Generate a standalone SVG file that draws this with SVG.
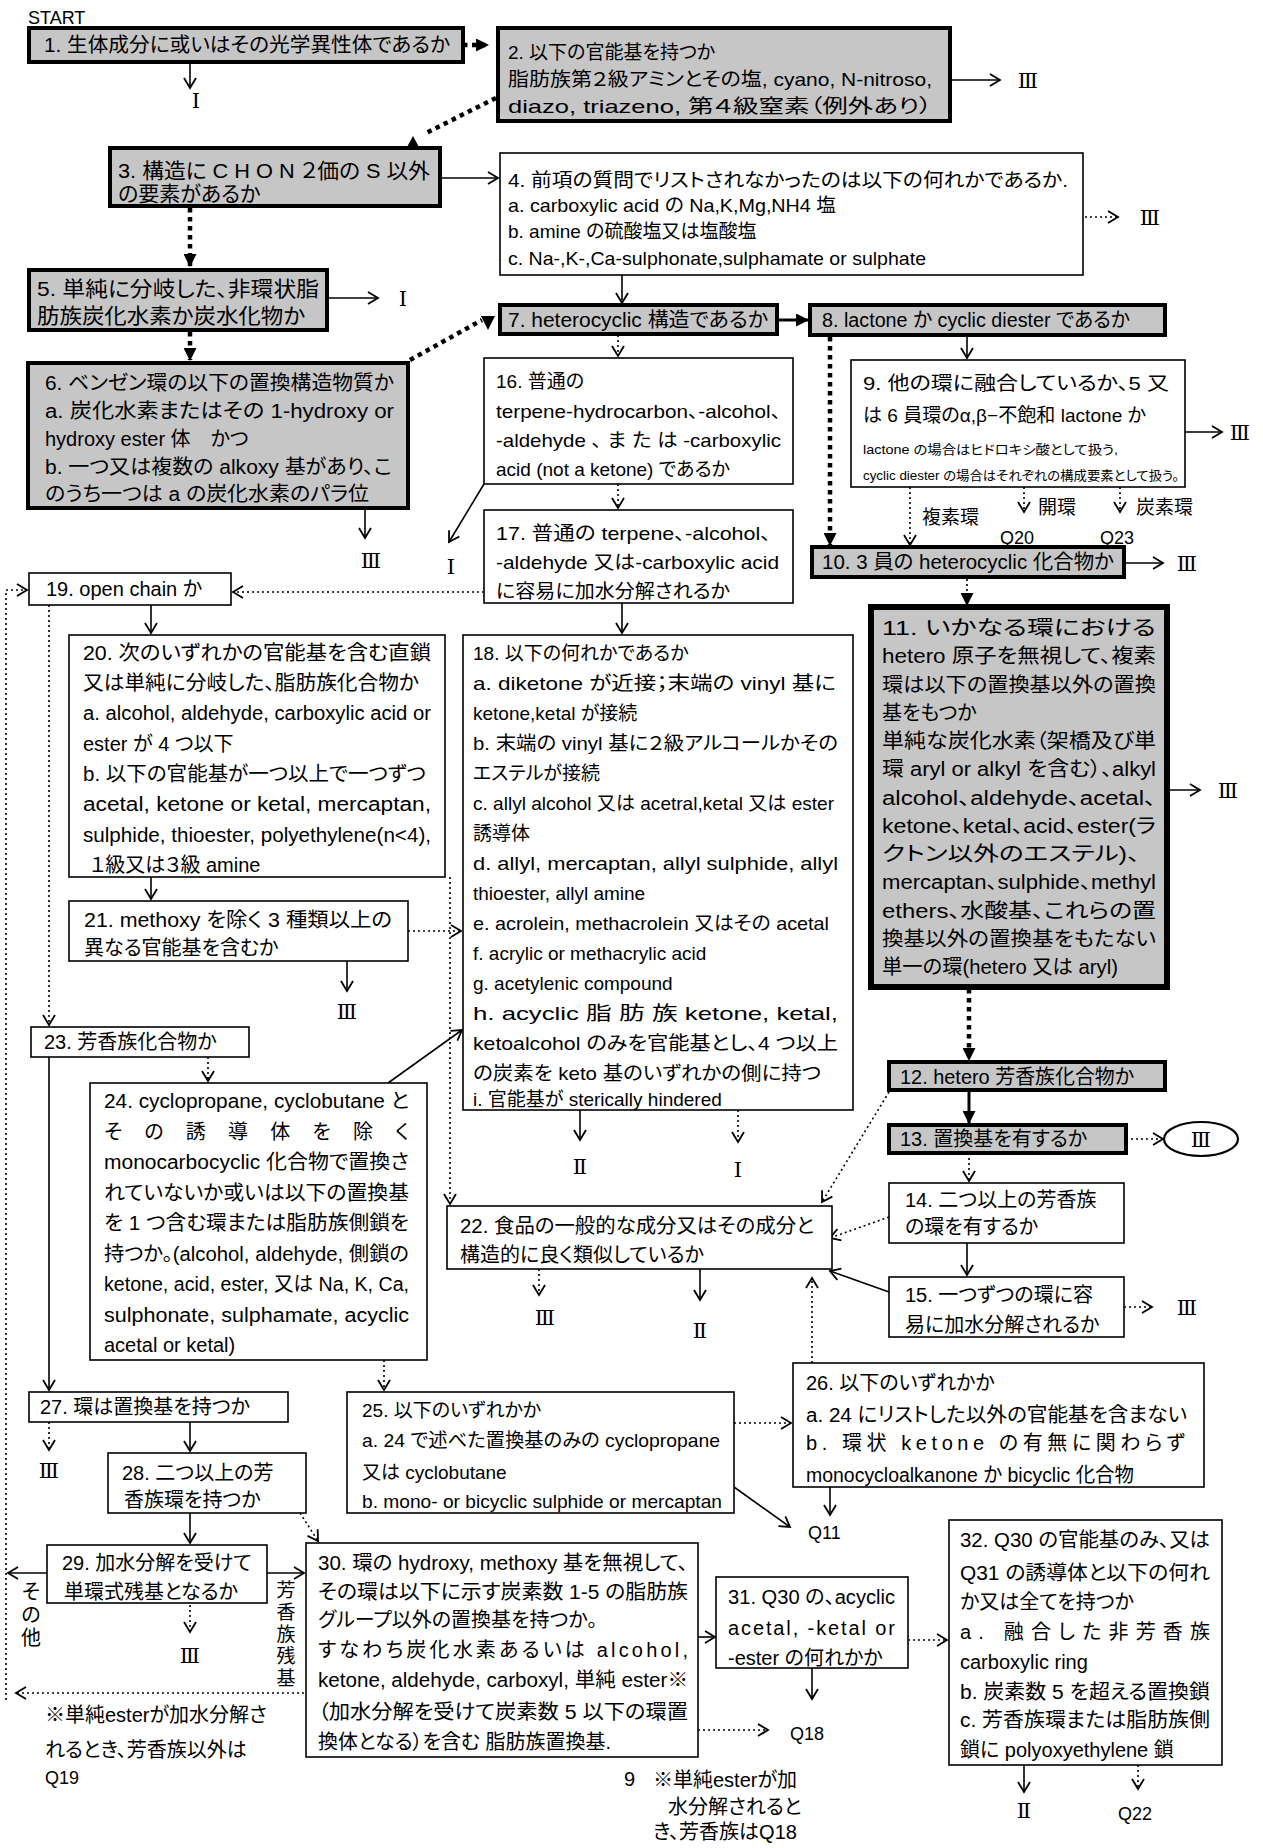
<svg xmlns="http://www.w3.org/2000/svg" width="1263" height="1848" viewBox="0 0 1263 1848">
<style>
.g{fill:#c6c6c6;stroke:#000;stroke-width:4}
.gx{fill:#c6c6c6;stroke:#000;stroke-width:6}
.w{fill:#fff;stroke:#000;stroke-width:1.6}
.t{font-family:"Liberation Sans","Noto Sans CJK JP",sans-serif;font-size:20px;fill:#000;font-feature-settings:"palt"}
.f19{font-size:19px}
.f21{font-size:21px}
.f13{font-size:13px}
.r{font-family:"DejaVu Serif","Noto Sans CJK JP",serif;font-size:21px;text-anchor:middle;fill:#000}
.q{font-family:"Liberation Sans",sans-serif;font-size:18px;fill:#000}
.c{fill:none;stroke:#000;stroke-width:1.6}
.S{fill:none;stroke:#000;stroke-width:3}
.d{fill:none;stroke:#000;stroke-width:1.6;stroke-dasharray:2 3}
.D{fill:none;stroke:#000;stroke-width:4.5;stroke-dasharray:4.5 4.5}
</style>
<defs>
<marker id="a" viewBox="0 0 14 14" refX="12" refY="7" markerWidth="14" markerHeight="14" orient="auto" markerUnits="userSpaceOnUse"><path d="M2,1 L12,7 L2,13" fill="none" stroke="#000" stroke-width="1.8"/></marker>
<marker id="f" viewBox="0 0 12 12" refX="11" refY="6" markerWidth="13" markerHeight="13" orient="auto" markerUnits="userSpaceOnUse"><path d="M0,0 L12,6 L0,12 Z" fill="#000"/></marker>
</defs>
<rect width="1263" height="1848" fill="#fff"/>
<text class="q" x="28" y="24" font-size="19">START</text>

<g id="connectors">
<path class="D" d="M463,45 H488" marker-end="url(#f)"/>
<path class="c" d="M190,62 V88" marker-end="url(#a)"/>
<path class="c" d="M950,80 H1000" marker-end="url(#a)"/>
<path class="D" d="M496,98 L424,134"/>
<polygon points="413,136 406,149 420,149" fill="#000"/>
<path class="c" d="M440,178 H498" marker-end="url(#a)"/>
<path class="D" d="M190,208 V266" marker-end="url(#f)"/>
<path class="d" d="M1085,217 H1118" marker-end="url(#a)"/>
<path class="c" d="M622,275 V303" marker-end="url(#a)"/>
<path class="c" d="M327,298 H378" marker-end="url(#a)"/>
<path class="D" d="M190,332 V360" marker-end="url(#f)"/>
<path class="c" d="M365,508 V538" marker-end="url(#a)"/>
<path class="D" d="M410,360 L482,320"/>
<polygon points="481,316 495,316 488,330" fill="#000"/>
<path class="S" d="M777,320 H808" marker-end="url(#f)"/>
<path class="d" d="M618,335 V356" marker-end="url(#a)"/>
<path class="c" d="M967,335 V358" marker-end="url(#a)"/>
<path class="D" d="M830,337 V545" marker-end="url(#f)"/>
<path class="c" d="M1185,432 H1222" marker-end="url(#a)"/>
<path class="d" d="M910,487 V545" marker-end="url(#a)"/>
<path class="d" d="M1024,487 V512" marker-end="url(#a)"/>
<path class="d" d="M1120,487 V512" marker-end="url(#a)"/>
<path class="c" d="M1124,563 H1163" marker-end="url(#a)"/>
<path class="d" d="M967,579 V605" marker-end="url(#f)"/>
<path class="c" d="M484,484 L449,542" marker-end="url(#a)"/>
<path class="d" d="M618,484 V508" marker-end="url(#a)"/>
<path class="d" d="M484,592 H233" marker-end="url(#a)"/>
<path class="c" d="M622,603 V633" marker-end="url(#a)"/>
<path class="c" d="M151,605 V633" marker-end="url(#a)"/>
<path class="d" d="M304,1693 H16" marker-end="url(#a)"/>
<path class="d" d="M6,1700 V590 H27" marker-end="url(#a)"/>
<path class="d" d="M49,605 V1025" marker-end="url(#a)"/>
<path class="c" d="M151,877 V899" marker-end="url(#a)"/>
<path class="d" d="M450,877 V1204" marker-end="url(#a)"/>
<path class="d" d="M408,931 H461" marker-end="url(#a)"/>
<path class="c" d="M347,961 V991" marker-end="url(#a)"/>
<path class="c" d="M580,1110 V1140" marker-end="url(#a)"/>
<path class="d" d="M738,1110 V1142" marker-end="url(#a)"/>
<path class="c" d="M1167,790 H1200" marker-end="url(#a)"/>
<path class="D" d="M969,989 V1060" marker-end="url(#f)"/>
<path class="S" d="M969,1090 V1123" marker-end="url(#f)"/>
<path class="d" d="M1126,1139 H1163" marker-end="url(#a)"/>
<path class="d" d="M969,1153 V1181" marker-end="url(#a)"/>
<path class="d" d="M889,1092 L822,1202" marker-end="url(#a)"/>
<path class="d" d="M889,1217 L830,1238" marker-end="url(#a)"/>
<path class="c" d="M967,1243 V1275" marker-end="url(#a)"/>
<path class="c" d="M889,1292 L830,1271" marker-end="url(#a)"/>
<path class="d" d="M1124,1307 H1152" marker-end="url(#a)"/>
<path class="d" d="M812,1363 V1278" marker-end="url(#a)"/>
<path class="d" d="M539,1269 V1295" marker-end="url(#a)"/>
<path class="c" d="M700,1269 V1300" marker-end="url(#a)"/>
<path class="d" d="M208,1057 V1081" marker-end="url(#a)"/>
<path class="c" d="M49,1057 V1390" marker-end="url(#a)"/>
<path class="c" d="M388,1083 L462,1030" marker-end="url(#a)"/>
<path class="d" d="M384,1360 V1390" marker-end="url(#a)"/>
<path class="d" d="M734,1423 H791" marker-end="url(#a)"/>
<path class="c" d="M734,1487 L790,1527" marker-end="url(#a)"/>
<path class="c" d="M830,1487 V1515" marker-end="url(#a)"/>
<path class="d" d="M49,1422 V1450" marker-end="url(#a)"/>
<path class="c" d="M190,1422 V1451" marker-end="url(#a)"/>
<path class="c" d="M190,1513 V1543" marker-end="url(#a)"/>
<path class="d" d="M300,1513 L318,1541" marker-end="url(#a)"/>
<path class="c" d="M47,1573 H8" marker-end="url(#a)"/>
<path class="c" d="M267,1573 H304" marker-end="url(#a)"/>
<path class="d" d="M190,1605 V1632" marker-end="url(#a)"/>
<path class="c" d="M698,1637 H715" marker-end="url(#a)"/>
<path class="d" d="M698,1730 H768" marker-end="url(#a)"/>
<path class="c" d="M812,1668 V1699" marker-end="url(#a)"/>
<path class="d" d="M908,1640 H947" marker-end="url(#a)"/>
<path class="c" d="M1024,1765 V1792" marker-end="url(#a)"/>
<path class="d" d="M1138,1765 V1789" marker-end="url(#a)"/>
</g>

<g id="labels">
<text class="r" x="196" y="108">Ⅰ</text>
<text class="r" x="1028" y="88">Ⅲ</text>
<text class="r" x="1150" y="225">Ⅲ</text>
<text class="r" x="403" y="306">Ⅰ</text>
<text class="r" x="371" y="568">Ⅲ</text>
<text class="r" x="451" y="574">Ⅰ</text>
<text class="r" x="1240" y="440">Ⅲ</text>
<text class="r" x="1187" y="571">Ⅲ</text>
<text class="r" x="1228" y="798">Ⅲ</text>
<text class="r" x="347" y="1019">Ⅲ</text>
<text class="r" x="580" y="1174">Ⅱ</text>
<text class="r" x="738" y="1177">Ⅰ</text>
<text class="r" x="1187" y="1315">Ⅲ</text>
<text class="r" x="545" y="1325">Ⅲ</text>
<text class="r" x="700" y="1338">Ⅱ</text>
<text class="r" x="49" y="1478">Ⅲ</text>
<text class="r" x="190" y="1663">Ⅲ</text>
<text class="r" x="1024" y="1818">Ⅱ</text>
<text class="t f19" x="922" y="524">複素環</text>
<text class="t f19" x="1038" y="514">開環</text>
<text class="t f19" x="1136" y="514">炭素環</text>
<text class="q" x="1000" y="544">Q20</text>
<text class="q" x="1100" y="544">Q23</text>
<text class="q" x="808" y="1539">Q11</text>
<text class="q" x="790" y="1740">Q18</text>
<text class="q" x="1118" y="1820">Q22</text>
<text class="t" x="31" y="1599" text-anchor="middle">そ</text>
<text class="t" x="31" y="1622" text-anchor="middle">の</text>
<text class="t" x="31" y="1645" text-anchor="middle">他</text>
<text class="t f19" x="286" y="1597" text-anchor="middle">芳</text>
<text class="t f19" x="286" y="1619" text-anchor="middle">香</text>
<text class="t f19" x="286" y="1641" text-anchor="middle">族</text>
<text class="t f19" x="286" y="1663" text-anchor="middle">残</text>
<text class="t f19" x="286" y="1685" text-anchor="middle">基</text>
<text class="t" x="45" y="1722">※単純esterが加水分解さ</text>
<text class="t" x="45" y="1757">れるとき、芳香族以外は</text>
<text class="q" x="45" y="1784" font-size="19">Q19</text>
<text class="t" x="624" y="1786">9</text>
<text class="t" x="653" y="1787">※単純esterが加</text>
<text class="t" x="668" y="1814">水分解されると</text>
<text class="t" x="653" y="1839">き、芳香族はQ18</text>
</g>

<g id="n1"><rect class="g" x="29" y="28" width="434" height="34"/>
<text class="t" x="44" y="52" textLength="406" lengthAdjust="spacingAndGlyphs">1. 生体成分に或いはその光学異性体であるか</text></g>

<g id="n2"><rect class="g" x="498" y="28" width="452" height="93"/>
<text class="t f19" x="508" y="59">2. 以下の官能基を持つか</text>
<text class="t f19" x="508" y="86" textLength="424" lengthAdjust="spacingAndGlyphs">脂肪族第２級アミンとその塩, cyano, N-nitroso,</text>
<text class="t f19" x="508" y="113" textLength="424" lengthAdjust="spacingAndGlyphs">diazo, triazeno, 第４級窒素（例外あり）</text></g>

<g id="n3"><rect class="g" x="110" y="148" width="330" height="58"/>
<text class="t f21" x="118" y="178" textLength="312" lengthAdjust="spacingAndGlyphs">3. 構造に C H O N ２価の S 以外</text>
<text class="t f21" x="118" y="201">の要素があるか</text></g>

<g id="n4"><rect class="w" x="500" y="153" width="583" height="122"/>
<text class="t f19" x="508" y="187" textLength="560" lengthAdjust="spacingAndGlyphs">4. 前項の質問でリストされなかったのは以下の何れかであるか.</text>
<text class="t f19" x="508" y="212" textLength="328" lengthAdjust="spacingAndGlyphs">a. carboxylic acid の Na,K,Mg,NH4 塩</text>
<text class="t f19" x="508" y="238">b. amine の硫酸塩又は塩酸塩</text>
<text class="t f19" x="508" y="265" textLength="418" lengthAdjust="spacingAndGlyphs">c. Na-,K-,Ca-sulphonate,sulphamate or sulphate</text></g>

<g id="n5"><rect class="g" x="29" y="270" width="298" height="60"/>
<text class="t f21" x="37" y="296" textLength="282" lengthAdjust="spacingAndGlyphs">5. 単純に分岐した、非環状脂</text>
<text class="t f21" x="37" y="323" textLength="268" lengthAdjust="spacingAndGlyphs">肪族炭化水素か炭水化物か</text></g>

<g id="n6"><rect class="g" x="28" y="363" width="380" height="145"/>
<text class="t" x="45" y="390" textLength="349" lengthAdjust="spacingAndGlyphs">6. ベンゼン環の以下の置換構造物質か</text>
<text class="t" x="45" y="418" textLength="349" lengthAdjust="spacingAndGlyphs">a. 炭化水素またはその 1-hydroxy or</text>
<text class="t" x="45" y="446">hydroxy ester 体　かつ</text>
<text class="t" x="45" y="474" textLength="347" lengthAdjust="spacingAndGlyphs">b. 一つ又は複数の alkoxy 基があり、こ</text>
<text class="t" x="45" y="501" textLength="324" lengthAdjust="spacingAndGlyphs">のうち一つは a の炭化水素のパラ位</text></g>

<g id="n7"><rect class="g" x="500" y="305" width="277" height="29"/>
<text class="t" x="508" y="327" textLength="260" lengthAdjust="spacingAndGlyphs">7. heterocyclic 構造であるか</text></g>

<g id="n8"><rect class="g" x="810" y="305" width="355" height="30"/>
<text class="t" x="822" y="327" textLength="308" lengthAdjust="spacingAndGlyphs">8. lactone か cyclic diester であるか</text></g>

<g id="n9"><rect class="w" x="851" y="360" width="334" height="127"/>
<text class="t f19" x="863" y="390" textLength="306" lengthAdjust="spacingAndGlyphs">9. 他の環に融合しているか、5 又</text>
<text class="t f19" x="863" y="422" textLength="283" lengthAdjust="spacingAndGlyphs">は 6 員環のα,β−不飽和 lactone か</text>
<text class="t f13" x="863" y="454" textLength="255" lengthAdjust="spacingAndGlyphs">lactone の場合はヒドロキシ酸として扱う,</text>
<text class="t f13" x="863" y="480" textLength="316" lengthAdjust="spacingAndGlyphs">cyclic diester の場合はそれぞれの構成要素として扱う。</text></g>

<g id="n10"><rect class="g" x="812" y="547" width="312" height="30"/>
<text class="t" x="822" y="569" textLength="292" lengthAdjust="spacingAndGlyphs">10. 3 員の heterocyclic 化合物か</text></g>

<g id="n11"><rect class="gx" x="871" y="607" width="296" height="380"/>
<text class="t" x="882" y="635" textLength="274" lengthAdjust="spacingAndGlyphs">11. いかなる環における</text>
<text class="t" x="882" y="663" textLength="274" lengthAdjust="spacingAndGlyphs">hetero 原子を無視して、複素</text>
<text class="t" x="882" y="692" textLength="274" lengthAdjust="spacingAndGlyphs">環は以下の置換基以外の置換</text>
<text class="t" x="882" y="720">基をもつか</text>
<text class="t" x="882" y="748" textLength="274" lengthAdjust="spacingAndGlyphs">単純な炭化水素（架橋及び単</text>
<text class="t" x="882" y="776" textLength="274" lengthAdjust="spacingAndGlyphs">環 aryl or alkyl を含む）、alkyl</text>
<text class="t" x="882" y="805" textLength="274" lengthAdjust="spacingAndGlyphs">alcohol、aldehyde、acetal、</text>
<text class="t" x="882" y="833" textLength="274" lengthAdjust="spacingAndGlyphs">ketone、ketal、acid、ester(ラ</text>
<text class="t" x="882" y="861" textLength="258" lengthAdjust="spacingAndGlyphs">クトン以外のエステル)、</text>
<text class="t" x="882" y="889" textLength="274" lengthAdjust="spacingAndGlyphs">mercaptan、sulphide、methyl</text>
<text class="t" x="882" y="918" textLength="274" lengthAdjust="spacingAndGlyphs">ethers、水酸基、これらの置</text>
<text class="t" x="882" y="946" textLength="274" lengthAdjust="spacingAndGlyphs">換基以外の置換基をもたない</text>
<text class="t" x="882" y="974" textLength="236" lengthAdjust="spacingAndGlyphs">単一の環(hetero 又は aryl)</text></g>

<g id="n12"><rect class="g" x="889" y="1062" width="276" height="28"/>
<text class="t" x="900" y="1084" textLength="234" lengthAdjust="spacingAndGlyphs">12. hetero 芳香族化合物か</text></g>

<g id="n13"><rect class="g" x="889" y="1125" width="237" height="28"/>
<text class="t" x="900" y="1146">13. 置換基を有するか</text></g>

<g id="n14"><rect class="w" x="889" y="1183" width="235" height="60"/>
<text class="t" x="905" y="1207">14. 二つ以上の芳香族</text>
<text class="t" x="905" y="1234">の環を有するか</text></g>

<g id="n15"><rect class="w" x="889" y="1277" width="235" height="60"/>
<text class="t" x="905" y="1302">15. 一つずつの環に容</text>
<text class="t" x="905" y="1332">易に加水分解されるか</text></g>

<g id="n16"><rect class="w" x="484" y="358" width="309" height="126"/>
<text class="t f19" x="496" y="388">16. 普通の</text>
<text class="t f19" x="496" y="418" textLength="285" lengthAdjust="spacingAndGlyphs">terpene-hydrocarbon、-alcohol、</text>
<text class="t f19" x="496" y="447" textLength="285" lengthAdjust="spacingAndGlyphs">-aldehyde 、 ま た は -carboxylic</text>
<text class="t f19" x="496" y="476" textLength="234" lengthAdjust="spacingAndGlyphs">acid (not a ketone) であるか</text></g>

<g id="n17"><rect class="w" x="484" y="510" width="309" height="93"/>
<text class="t f19" x="496" y="540" textLength="275" lengthAdjust="spacingAndGlyphs">17. 普通の terpene、-alcohol、</text>
<text class="t f19" x="496" y="569" textLength="283" lengthAdjust="spacingAndGlyphs">-aldehyde 又は-carboxylic acid</text>
<text class="t f19" x="496" y="598" textLength="234" lengthAdjust="spacingAndGlyphs">に容易に加水分解されるか</text></g>

<g id="n18"><rect class="w" x="463" y="635" width="390" height="475"/>
<text class="t f19" x="473" y="660">18. 以下の何れかであるか</text>
<text class="t f19" x="473" y="690" textLength="363" lengthAdjust="spacingAndGlyphs">a. diketone が近接；末端の vinyl 基に</text>
<text class="t f19" x="473" y="720">ketone,ketal が接続</text>
<text class="t f19" x="473" y="750" textLength="365" lengthAdjust="spacingAndGlyphs">b. 末端の vinyl 基に２級アルコールかその</text>
<text class="t f19" x="473" y="780">エステルが接続</text>
<text class="t f19" x="473" y="810" textLength="361" lengthAdjust="spacingAndGlyphs">c. allyl alcohol 又は acetral,ketal 又は ester</text>
<text class="t f19" x="473" y="840">誘導体</text>
<text class="t f19" x="473" y="870" textLength="365" lengthAdjust="spacingAndGlyphs">d. allyl, mercaptan, allyl sulphide, allyl</text>
<text class="t f19" x="473" y="900">thioester, allyl amine</text>
<text class="t f19" x="473" y="930" textLength="356" lengthAdjust="spacingAndGlyphs">e. acrolein, methacrolein 又はその acetal</text>
<text class="t f19" x="473" y="960">f. acrylic or methacrylic acid</text>
<text class="t f19" x="473" y="990">g. acetylenic compound</text>
<text class="t f19" x="473" y="1020" textLength="365" lengthAdjust="spacingAndGlyphs">h. acyclic 脂 肪 族 ketone, ketal,</text>
<text class="t f19" x="473" y="1050" textLength="365" lengthAdjust="spacingAndGlyphs">ketoalcohol のみを官能基とし、4 つ以上</text>
<text class="t f19" x="473" y="1080" textLength="348" lengthAdjust="spacingAndGlyphs">の炭素を keto 基のいずれかの側に持つ</text>
<text class="t f19" x="473" y="1106">i. 官能基が sterically hindered</text></g>

<g id="n19"><rect class="w" x="29" y="573" width="202" height="32"/>
<text class="t" x="46" y="596">19. open chain か</text></g>

<g id="n20"><rect class="w" x="69" y="635" width="376" height="242"/>
<text class="t" x="83" y="660" textLength="348" lengthAdjust="spacingAndGlyphs">20. 次のいずれかの官能基を含む直鎖</text>
<text class="t" x="83" y="690" textLength="336" lengthAdjust="spacingAndGlyphs">又は単純に分岐した、脂肪族化合物か</text>
<text class="t" x="83" y="720" textLength="348" lengthAdjust="spacingAndGlyphs">a. alcohol, aldehyde, carboxylic acid or</text>
<text class="t" x="83" y="751">ester が 4 つ以下</text>
<text class="t" x="83" y="781" textLength="343" lengthAdjust="spacingAndGlyphs">b. 以下の官能基が一つ以上で一つずつ</text>
<text class="t" x="83" y="811" textLength="348" lengthAdjust="spacingAndGlyphs">acetal, ketone or ketal, mercaptan,</text>
<text class="t" x="83" y="842" textLength="348" lengthAdjust="spacingAndGlyphs">sulphide, thioester, polyethylene(n&lt;4),</text>
<text class="t" x="90" y="872">１級又は３級 amine</text></g>

<g id="n21"><rect class="w" x="69" y="901" width="339" height="60"/>
<text class="t" x="84" y="927" textLength="308" lengthAdjust="spacingAndGlyphs">21. methoxy を除く 3 種類以上の</text>
<text class="t" x="84" y="955">異なる官能基を含むか</text></g>

<g id="n22"><rect class="w" x="447" y="1206" width="385" height="63"/>
<text class="t" x="460" y="1233" textLength="354" lengthAdjust="spacingAndGlyphs">22. 食品の一般的な成分又はその成分と</text>
<text class="t" x="460" y="1262">構造的に良く類似しているか</text></g>

<g id="n23"><rect class="w" x="31" y="1027" width="218" height="30"/>
<text class="t" x="44" y="1049">23. 芳香族化合物か</text></g>

<g id="n24"><rect class="w" x="90" y="1083" width="337" height="277"/>
<text class="t" x="104" y="1108" textLength="305" lengthAdjust="spacingAndGlyphs">24. cyclopropane, cyclobutane と</text>
<text class="t" x="104" y="1139" textLength="305" lengthAdjust="spacing">その誘導体を除く</text>
<text class="t" x="104" y="1169" textLength="305" lengthAdjust="spacingAndGlyphs">monocarbocyclic 化合物で置換さ</text>
<text class="t" x="104" y="1200" textLength="305" lengthAdjust="spacingAndGlyphs">れていないか或いは以下の置換基</text>
<text class="t" x="104" y="1230" textLength="305" lengthAdjust="spacingAndGlyphs">を 1 つ含む環または脂肪族側鎖を</text>
<text class="t" x="104" y="1261" textLength="305" lengthAdjust="spacingAndGlyphs">持つか。(alcohol, aldehyde, 側鎖の</text>
<text class="t" x="104" y="1291" textLength="305" lengthAdjust="spacingAndGlyphs">ketone, acid, ester, 又は Na, K, Ca,</text>
<text class="t" x="104" y="1322" textLength="305" lengthAdjust="spacingAndGlyphs">sulphonate, sulphamate, acyclic</text>
<text class="t" x="104" y="1352">acetal or ketal)</text></g>

<g id="n25"><rect class="w" x="347" y="1392" width="387" height="121"/>
<text class="t f19" x="362" y="1417">25. 以下のいずれかか</text>
<text class="t f19" x="362" y="1447" textLength="358" lengthAdjust="spacingAndGlyphs">a. 24 で述べた置換基のみの cyclopropane</text>
<text class="t f19" x="362" y="1479">又は cyclobutane</text>
<text class="t f19" x="362" y="1508" textLength="360" lengthAdjust="spacingAndGlyphs">b. mono- or bicyclic sulphide or mercaptan</text></g>

<g id="n26"><rect class="w" x="793" y="1363" width="411" height="124"/>
<text class="t" x="806" y="1390">26. 以下のいずれかか</text>
<text class="t" x="806" y="1422" textLength="381" lengthAdjust="spacingAndGlyphs">a. 24 にリストした以外の官能基を含まない</text>
<text class="t" x="806" y="1450" textLength="379" lengthAdjust="spacing">b. 環状 ketone の有無に関わらず</text>
<text class="t" x="806" y="1482" textLength="328" lengthAdjust="spacingAndGlyphs">monocycloalkanone か bicyclic 化合物</text></g>

<g id="n27"><rect class="w" x="29" y="1392" width="259" height="30"/>
<text class="t" x="40" y="1414">27. 環は置換基を持つか</text></g>

<g id="n28"><rect class="w" x="108" y="1453" width="198" height="60"/>
<text class="t" x="122" y="1480">28. 二つ以上の芳</text>
<text class="t" x="124" y="1507">香族環を持つか</text></g>

<g id="n29"><rect class="w" x="47" y="1545" width="220" height="58"/>
<text class="t" x="62" y="1570">29. 加水分解を受けて</text>
<text class="t" x="64" y="1599">単環式残基となるか</text></g>

<g id="n30"><rect class="w" x="306" y="1543" width="392" height="214"/>
<text class="t" x="318" y="1570" textLength="370" lengthAdjust="spacingAndGlyphs">30. 環の hydroxy, methoxy 基を無視して、</text>
<text class="t" x="318" y="1599" textLength="370" lengthAdjust="spacingAndGlyphs">その環は以下に示す炭素数 1-5 の脂肪族</text>
<text class="t" x="318" y="1627">グループ以外の置換基を持つか。</text>
<text class="t" x="318" y="1657" textLength="370" lengthAdjust="spacing">すなわち炭化水素あるいは alcohol,</text>
<text class="t" x="318" y="1687" textLength="370" lengthAdjust="spacingAndGlyphs">ketone, aldehyde, carboxyl, 単純 ester※</text>
<text class="t" x="318" y="1719" textLength="370" lengthAdjust="spacingAndGlyphs">（加水分解を受けて炭素数 5 以下の環置</text>
<text class="t" x="318" y="1749">換体となる）を含む 脂肪族置換基.</text></g>

<g id="n31"><rect class="w" x="716" y="1577" width="192" height="91"/>
<text class="t" x="728" y="1604" textLength="167" lengthAdjust="spacingAndGlyphs">31. Q30 の、acyclic</text>
<text class="t" x="728" y="1635" textLength="167" lengthAdjust="spacing">acetal, -ketal or</text>
<text class="t" x="728" y="1665">-ester の何れかか</text></g>

<g id="n32"><rect class="w" x="949" y="1520" width="273" height="245"/>
<text class="t" x="960" y="1547" textLength="250" lengthAdjust="spacingAndGlyphs">32. Q30 の官能基のみ、又は</text>
<text class="t" x="960" y="1580" textLength="250" lengthAdjust="spacingAndGlyphs">Q31 の誘導体と以下の何れ</text>
<text class="t" x="960" y="1609">か又は全てを持つか</text>
<text class="t" x="960" y="1639" textLength="250" lengthAdjust="spacing">a. 融合した非芳香族</text>
<text class="t" x="960" y="1669">carboxylic ring</text>
<text class="t" x="960" y="1699" textLength="250" lengthAdjust="spacingAndGlyphs">b. 炭素数 5 を超える置換鎖</text>
<text class="t" x="960" y="1727" textLength="250" lengthAdjust="spacingAndGlyphs">c. 芳香族環または脂肪族側</text>
<text class="t" x="960" y="1757">鎖に polyoxyethylene 鎖</text></g>

<g id="n33"><ellipse cx="1201" cy="1139" rx="37" ry="17" fill="#fff" stroke="#000" stroke-width="2.2"/>
<text class="r" x="1201" y="1147">Ⅲ</text></g>
</svg>
